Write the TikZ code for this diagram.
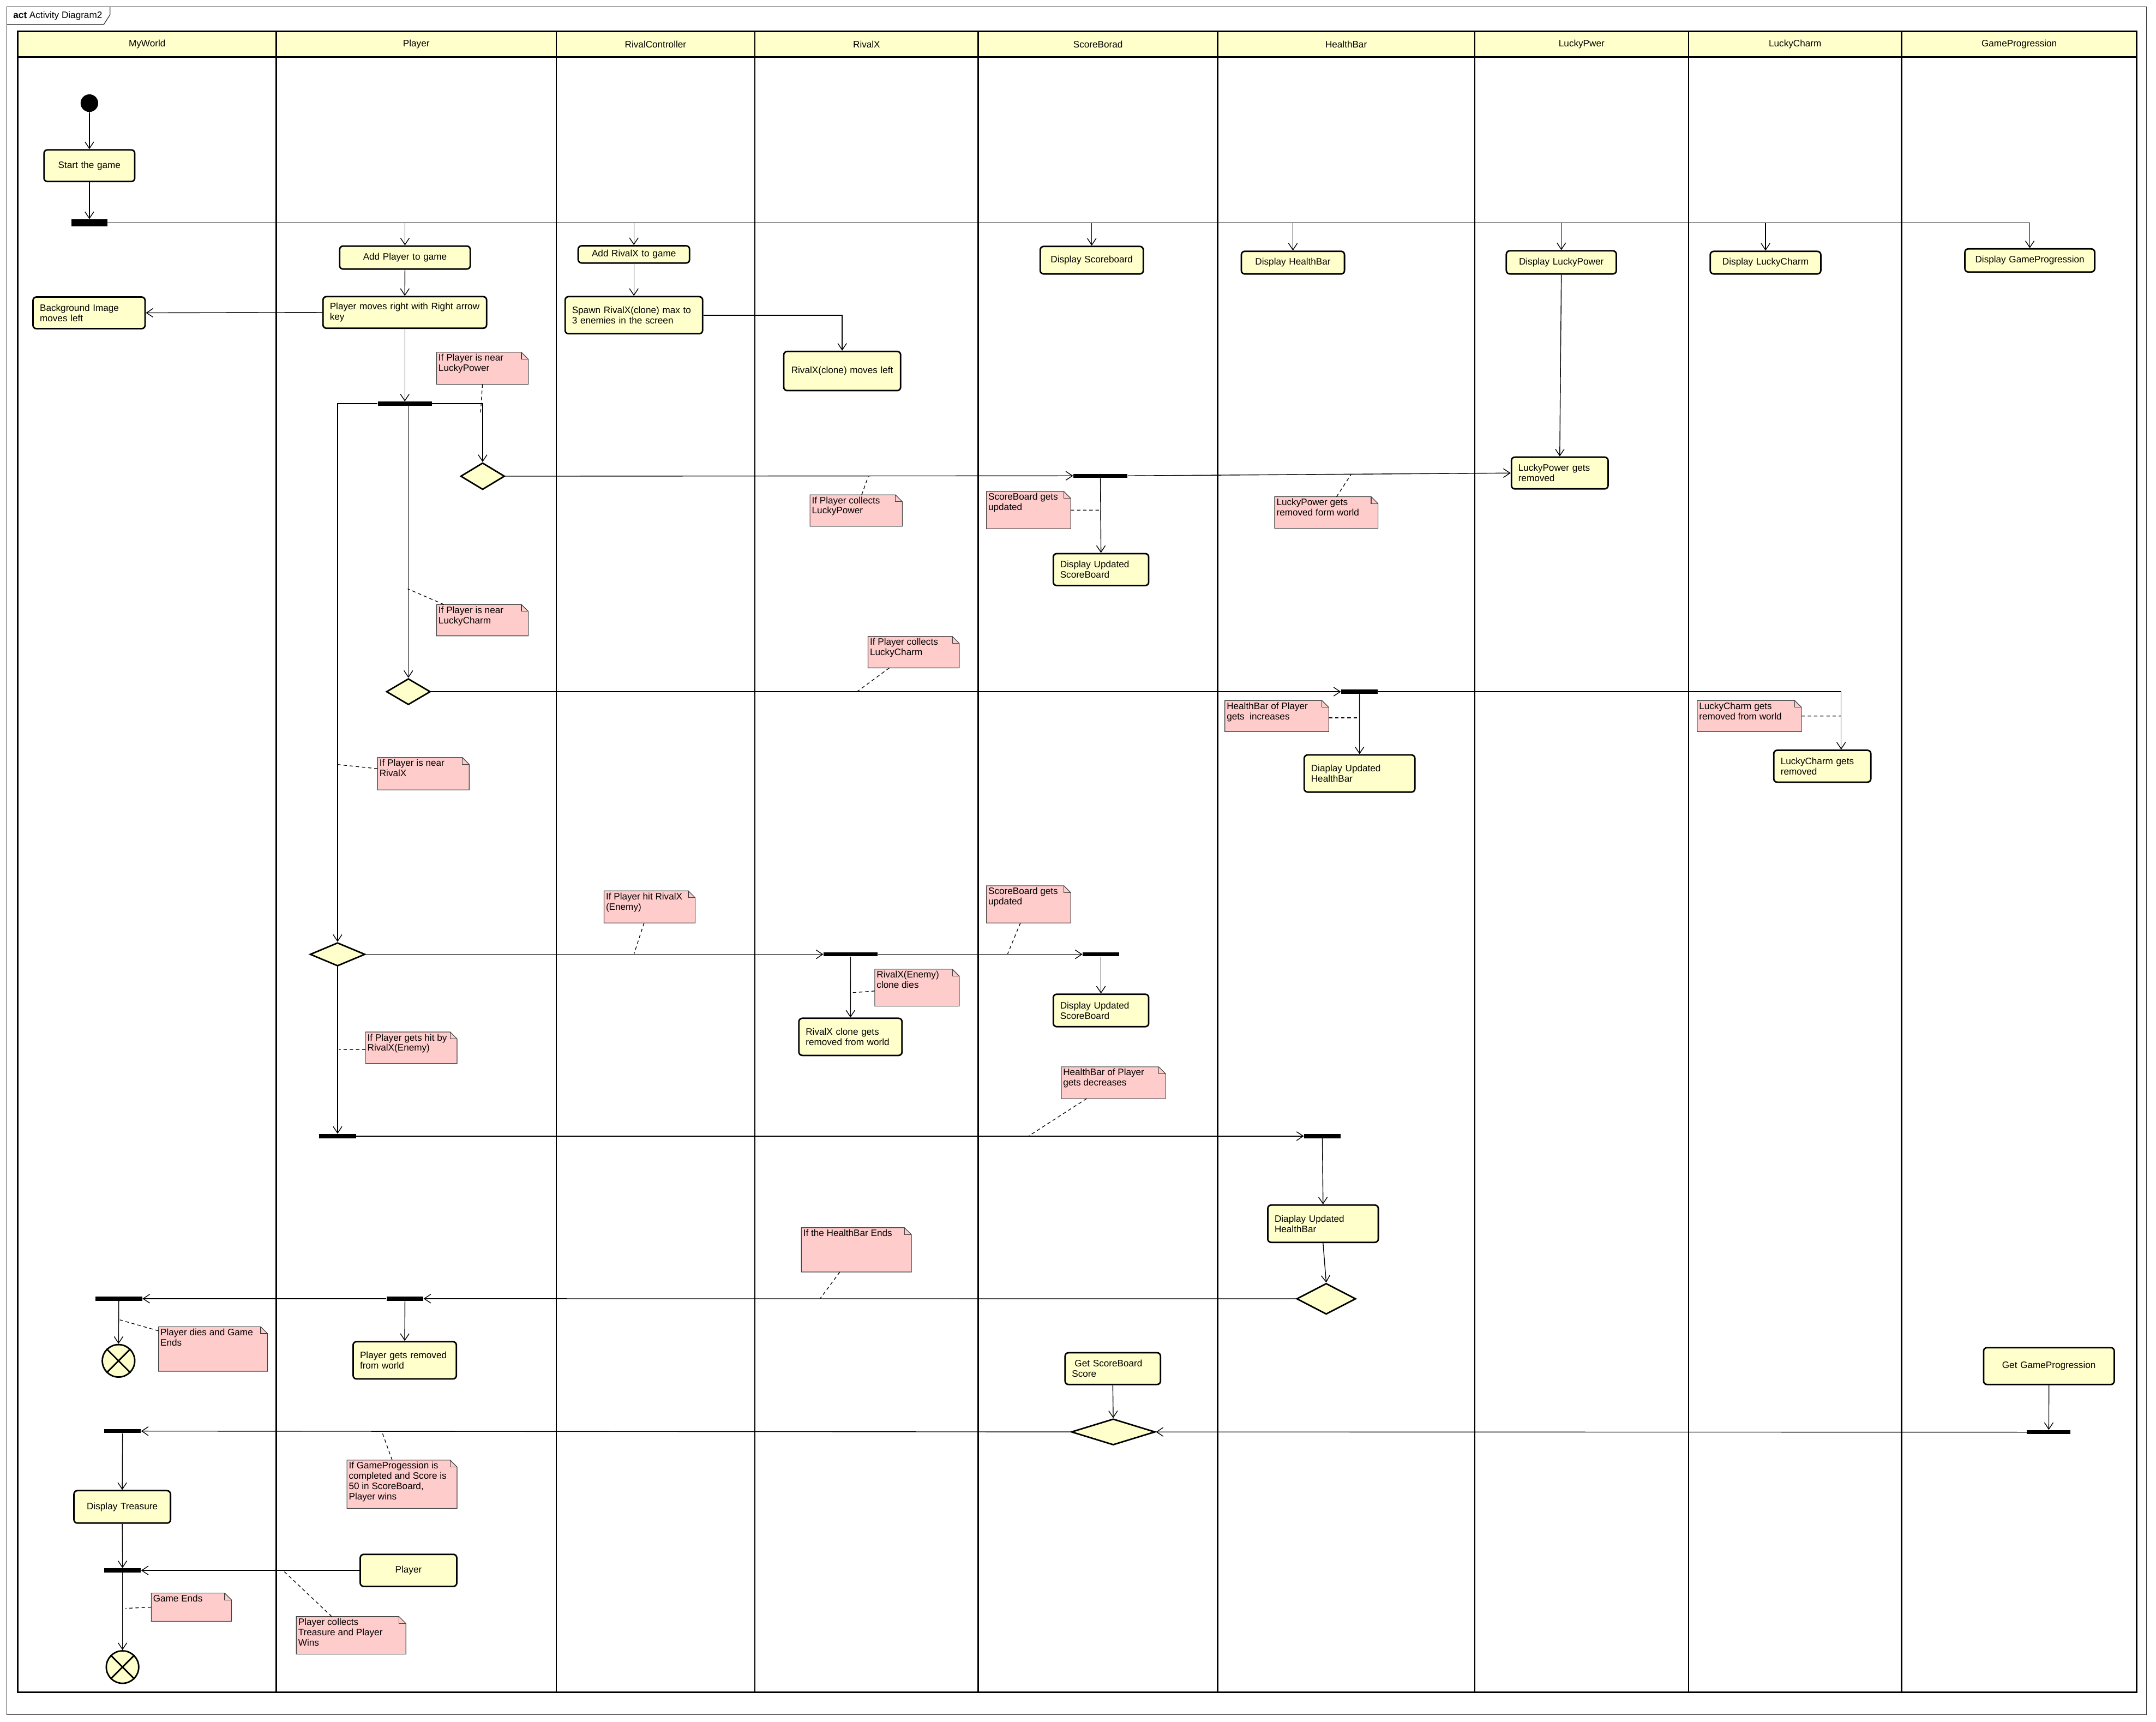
\documentclass[tikz,border=0pt]{standalone}
\usepackage{fontspec}
\newfontfamily\dfont{Liberation Sans}
\usetikzlibrary{arrows.meta,shapes.geometric,fit,calc}
\definecolor{actfill}{HTML}{FFFFCC}
\definecolor{notefill}{HTML}{FFCCCC}

% UML comment: pink box with a folded corner, plus its text
\newcommand{\umlnote}[6]{%
  \node[fit={(#2,#3) (#4,#5)}, inner sep=0pt, draw=none] (#1) {};
  \filldraw[notebox] (#1.north west) -- ([xshift=-5pt]#1.north east) -- ([yshift=-5pt]#1.north east)
     -- (#1.south east) -- (#1.south west) -- cycle;
  \draw[notebox, fill=none] ([xshift=-5pt]#1.north east) |- ([yshift=-5pt]#1.north east);
  \node[notetext, anchor=north west] (#1t) at (#1.north west) {#6};
}

\begin{document}
\begin{tikzpicture}[x=1pt,y=-1pt,
  every node/.style={font=\dfont\fontsize{6.8}{7.5}\selectfont},
  act/.style={draw, line width=1.1pt, fill=actfill, rounded corners=2.5pt, inner xsep=5pt, inner ysep=1pt},
  actbox/.style n args={3}{act, text width=#1pt, minimum height=#2pt, align=#3},
  syncbar/.style={fill=black, draw=none, inner sep=0pt, minimum height=3pt, minimum width=#1pt},
  decision/.style 2 args={diamond, draw, line width=1.1pt, fill=actfill, inner sep=0pt, minimum width=#1pt, minimum height=#2pt},
  flowfinal/.style={circle, draw, line width=1.1pt, fill=actfill, inner sep=0pt, minimum size=23.6pt},
  flow/.style={line width=0.55pt, -{Straight Barb[length=4.8pt,width=6.4pt]}},
  notebox/.style={fill=notefill, draw=black!75, line width=0.45pt},
  notetext/.style={inner sep=1.2pt, align=left},
  notelink/.style={line width=0.5pt, dash pattern=on 2.5pt off 2pt},
  lane/.style={line width=1pt}
]
\useasboundingbox (0,0) rectangle (1568,1252);

% ---- diagram frame ----
\draw[line width=0.5pt, black!80] (5,5) rectangle (1561,1247);
\draw[line width=0.5pt, black!80] (5,17.8) -- (75.5,17.8) -- (80,10.7) -- (80,5);
\node[anchor=west, inner sep=0pt] (title) at (9.5,11.6) {\textbf{act} Activity Diagram2};

% ---- swimlanes ----
\fill[actfill] (13,23) rectangle (1554,41.5);
\foreach \x in {201,404.5,549,711.5,885.5,1072.5,1228,1383}
  \draw[lane] (\x,23) -- (\x,1230.5);
\draw[line width=1.2pt] (13,23) rectangle (1554,1230.5);
\draw[line width=1.2pt] (13,41.5) -- (1554,41.5);
\node (hMyWorld) at (107,32.2) {MyWorld};
\node (hPlayer) at (302.75,32.2) {Player};
\node (hRivalController) at (476.75,32.2) {RivalController};
\node (hRivalX) at (630.25,32.2) {RivalX};
\node (hScore) at (798.5,32.2) {ScoreBorad};
\node (hHealth) at (979,32.2) {HealthBar};
\node (hLuckyPwer) at (1150.25,32.2) {LuckyPwer};
\node (hLuckyCharm) at (1305.5,32.2) {LuckyCharm};
\node (hGameProg) at (1468.5,32.2) {GameProgression};

% ---- actions ----
\node[actbox={56}{23}{center}] (start) at (65,120.5) {Start the game};
\node[actbox={85}{16.7}{center}] (addp) at (294.5,187.3) {Add Player to game};
\node[actbox={109}{23}{left}] (pm) at (294.4,227.2) {Player moves right with Right arrow\\key};
\node[actbox={71.5}{23}{left}] (bg) at (64.75,227.5) {Background Image\\moves left};
\node[actbox={71}{12.5}{center}] (addr) at (461,185) {Add RivalX to game};
\node[actbox={90}{27}{left}] (spawn) at (461,229.2) {Spawn RivalX(clone) max to\\3 enemies in the screen};
\node[actbox={75}{28.5}{center}] (rml) at (612.5,269.8) {RivalX(clone) moves left};
\node[actbox={65}{20}{center}] (dsb) at (794,189.2) {Display Scoreboard};
\node[actbox={65}{16.5}{center}] (dhb) at (940.3,191) {Display HealthBar};
\node[actbox={70}{16.8}{center}] (dlp) at (1135.5,190.8) {Display LuckyPower};
\node[actbox={70.4}{16.4}{center}] (dlc) at (1284,191) {Display LuckyCharm};
\node[actbox={84.4}{16.8}{center}] (dgp) at (1476.2,189.4) {Display GameProgression};
\node[actbox={60.3}{23.1}{left}] (lpr) at (1134.35,344) {LuckyPower gets\\removed};
\node[actbox={59.4}{23.2}{left}] (dus1) at (800.7,414.2) {Display Updated\\ScoreBoard};
\node[actbox={70.5}{27}{left}] (duh1) at (988.75,562.5) {Diaplay Updated\\HealthBar};
\node[actbox={60.6}{23.2}{left}] (lcr) at (1325.3,557.2) {LuckyCharm gets\\removed};
\node[actbox={65}{27}{left}] (rxr) at (618.5,754) {RivalX clone gets\\removed from world};
\node[actbox={59.4}{23.6}{left}] (dus2) at (800.7,734.8) {Display Updated\\ScoreBoard};
\node[actbox={70.4}{27.1}{left}] (duh2) at (962.2,889.9) {Diaplay Updated\\HealthBar};
\node[actbox={65.1}{27.1}{left}] (pgr) at (294.35,989.2) {Player gets removed\\from world};
\node[actbox={59.4}{23.1}{left}] (gss) at (809.3,995.25) {\hspace{2pt}Get ScoreBoard\\Score};
\node[actbox={85}{26.8}{center}] (ggp) at (1490.1,993.4) {Get GameProgression};
\node[actbox={60.2}{23.6}{center}] (dt) at (88.9,1095.8) {Display Treasure};
\node[actbox={60.2}{23.3}{center}] (pl) at (297.1,1142) {Player};

% ---- control nodes ----
\node[circle, fill=black, inner sep=0pt, minimum size=12.8pt] (init) at (65,75) {};
\node[flowfinal] (ff1) at (86.2,989.6) {};
\node[flowfinal] (ff2) at (89.1,1212.3) {};
\draw[line width=1.1pt] (ff1.45) -- (ff1.225) (ff1.135) -- (ff1.315);
\draw[line width=1.1pt] (ff2.45) -- (ff2.225) (ff2.135) -- (ff2.315);

\node[decision={32}{19.5}] (d1) at (351,346.3) {};
\node[decision={32}{19}] (d2) at (297,503) {};
\node[decision={40}{17}] (d3) at (245.5,694) {};
\node[decision={43}{22.5}] (d4) at (964.5,944.5) {};
\node[decision={61}{19}] (d5) at (809.6,1041.3) {};

\node[syncbar=26, minimum height=5pt] (f1) at (65,162) {};
\node[syncbar=39.2] (f2) at (294.4,293.6) {};
\node[syncbar=39.4] (sbb1) at (800.3,346) {};
\node[syncbar=26.6] (hb1) at (988.7,503) {};
\node[syncbar=39.3] (rxb) at (618.6,694) {};
\node[syncbar=26.6] (sbb2) at (800.7,694) {};
\node[syncbar=27] (j1) at (245.5,826.2) {};
\node[syncbar=26.5] (hb2) at (961.7,826.2) {};
\node[syncbar=26.6] (pb) at (294.5,944.4) {};
\node[syncbar=34] (mb1) at (86.4,944.4) {};
\node[syncbar=31.7] (gpb) at (1490,1041.5) {};
\node[syncbar=26.6] (mb2) at (89.1,1040.7) {};
\node[syncbar=26.6] (mb3) at (89.1,1142) {};

% ---- comments ----
\umlnote{n1}{317.7}{256.4}{384}{279.3}{If Player is near\\LuckyPower}
\umlnote{n2}{317.7}{439.8}{384}{462.2}{If Player is near\\LuckyCharm}
\umlnote{n3}{274.8}{551}{341}{574.2}{If Player is near\\RivalX}
\umlnote{n4}{266}{750.7}{332.2}{773.2}{If Player gets hit by\\RivalX(Enemy)}
\umlnote{n5}{439.5}{648}{505.4}{671}{If Player hit RivalX\\(Enemy)}
\umlnote{n6}{589.3}{360}{656}{382.5}{If Player collects\\LuckyPower}
\umlnote{n7}{717.6}{357.6}{778.5}{384.3}{ScoreBoard gets\\updated}
\umlnote{n8}{927.2}{361.4}{1002}{384}{LuckyPower gets\\removed form world}
\umlnote{n9}{631.5}{463}{697.4}{485.5}{If Player collects\\LuckyCharm}
\umlnote{n10}{891}{509.6}{966.2}{531.8}{HealthBar of Player\\gets~ increases}
\umlnote{n11}{1234.5}{509.6}{1310}{531.8}{LuckyCharm gets\\removed from world}
\umlnote{n12}{717.6}{644.3}{778.5}{671}{ScoreBoard gets\\updated}
\umlnote{n13}{636.4}{705}{697.4}{731.5}{RivalX(Enemy)\\clone dies}
\umlnote{n14}{772}{776}{847.5}{798.7}{HealthBar of Player\\gets decreases}
\umlnote{n15}{583}{893}{662.6}{924.8}{If the HealthBar Ends}
\umlnote{n16}{115.5}{965}{194.4}{997}{Player dies and Game\\Ends}
\umlnote{n17}{252.5}{1062}{332.2}{1096.7}{If GameProgession is\\completed and Score is\\50 in ScoreBoard,\\Player wins}
\umlnote{n18}{215.7}{1175.8}{295}{1202.7}{Player collects\\Treasure and Player\\Wins}
\umlnote{n19}{110.2}{1158.7}{168.2}{1178.8}{Game Ends}

% anchor points of the comment links on the flows
\coordinate (c1) at (349.5,300);
\coordinate (c2) at (296.5,428.2);
\coordinate (c3) at (245.5,556);
\coordinate (c4) at (246.5,763.3);
\coordinate (c5) at (461,694);
\coordinate (c6) at (631.5,346.3);
\coordinate (c7) at (800.3,371);
\coordinate (c8) at (982.5,345.2);
\coordinate (c9) at (623.3,503);
\coordinate (c10) at (988.7,522);
\coordinate (c11) at (1339,520.7);
\coordinate (c12) at (732.7,694);
\coordinate (c13) at (618.6,722);
\coordinate (c14) at (748,826.2);
\coordinate (c15) at (596.4,944.4);
\coordinate (c16) at (87.1,959.8);
\coordinate (c17) at (277.7,1041);
\coordinate (c18) at (205.8,1142);
\coordinate (c19) at (91.3,1169.6);

\draw[notelink] (n1.south) -- (c1);
\draw[notelink] ([xshift=5.3pt]n2.north west) -- (c2);
\draw[notelink] ([yshift=3.6pt]n3.west) -- (c3);
\draw[notelink] ([yshift=-1.3pt]n4.west) -- (c4);
\draw[notelink] ([xshift=29.1pt]n5.south west) -- (c5);
\draw[notelink] ([xshift=37.6pt]n6.north west) -- (c6);
\draw[notelink] (n7.east) -- (c7);
\draw[notelink] ([xshift=45pt]n8.north west) -- (c8);
\draw[notelink] ([xshift=15.5pt]n9.south west) -- (c9);
\draw[notelink] ([yshift=-1.3pt]n10.east) -- (c10);
\draw[notelink] (n11.east) -- (c11);
\draw[notelink] ([xshift=24.7pt]n12.south west) -- (c12);
\draw[notelink] ([yshift=-2.4pt]n13.west) -- (c13);
\draw[notelink] ([xshift=18.5pt]n14.south west) -- (c14);
\draw[notelink] ([xshift=28pt]n15.south west) -- (c15);
\draw[notelink] ([yshift=-3pt]n16.north west) -- (c16);
\draw[notelink] ([xshift=32.9pt]n17.north west) -- (c17);
\draw[notelink] ([xshift=25.8pt]n18.north west) -- (c18);
\draw[notelink] (n19.west) -- (c19);

% ---- control flows ----
\draw[flow] (init.south) -- (start.north);
\draw[flow] (start.south) -- (f1.north);
\foreach \t in {addp,addr,dsb,dhb,dlp,dlc,dgp}
  \draw[flow] (f1.east) -| (\t.north);
\draw[flow] (addp.south) -- (pm.north);
\draw[flow] (pm.west) -- (bg.east);
\draw[flow] (pm.south) -- (f2.north);
\draw[flow] (addr.south) -- (spawn.north);
\draw[flow] (spawn.east) -| (rml.north);

\draw[flow] (f2.east) -| (d1.north);
\draw[flow] (f2.south -| d2.north) -- (d2.north);
\draw[flow] (f2.west) -| (d3.north);

\draw[flow] (d1.east) -- (sbb1.west);
\draw[flow] (sbb1.east) -- (lpr.west);
\draw[flow] (sbb1.south) -- (dus1.north);
\draw[flow] (dlp.south) -- (lpr.north);

\draw[flow] (d2.east) -- (hb1.west);
\draw[flow] (hb1.south) -- (duh1.north);
\draw[flow] (hb1.east) -| ([xshift=13.7pt]lcr.north);

\draw[flow] (d3.east) -- (rxb.west);
\draw[flow] (rxb.east) -- (sbb2.west);
\draw[flow] (rxb.south) -- (rxr.north);
\draw[flow] (sbb2.south) -- (dus2.north);
\draw[flow] (d3.south) -- (j1.north);
\draw[flow] (j1.east) -- (hb2.west);
\draw[flow] (hb2.south) -- (duh2.north);
\draw[flow] (duh2.south) -- (d4.north);

\draw[flow] (d4.west) -- (pb.east);
\draw[flow] (pb.west) -- (mb1.east);
\draw[flow] (pb.south) -- (pgr.north);
\draw[flow] (mb1.south) -- (ff1.north);

\draw[flow] (gss.south) -- (d5.north);
\draw[flow] (ggp.south) -- (gpb.north);
\draw[flow] (gpb.west) -- (d5.east);
\draw[flow] (d5.west) -- (mb2.east);
\draw[flow] (mb2.south) -- (dt.north);
\draw[flow] (dt.south) -- (mb3.north);
\draw[flow] (pl.west) -- (mb3.east);
\draw[flow] (mb3.south) -- (ff2.north);
\end{tikzpicture}
\end{document}
